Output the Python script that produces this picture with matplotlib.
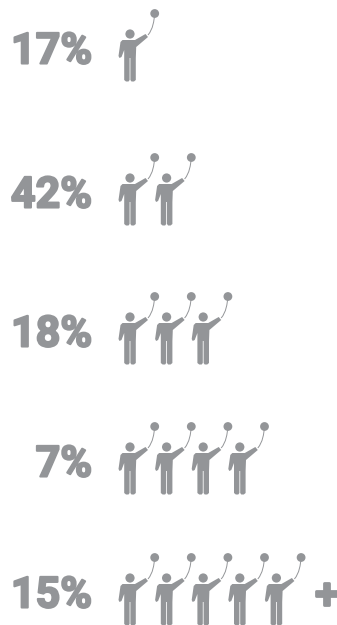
import matplotlib
matplotlib.use('Agg')
import matplotlib.pyplot as plt
import matplotlib.patheffects as pe
from matplotlib.patches import Circle, Polygon, PathPatch
from matplotlib.path import Path

labels = ['17%', '42%', '18%', '7%', '15%']
counts = [1, 2, 3, 4, 5]
head_y = [34, 178, 317, 447, 578]

GREY = '#939598'
STEP = 36.6
HEAD_X = 130

fig = plt.figure(figsize=(3.37, 6.25), dpi=100)
ax = fig.add_axes([0, 0, 1, 1])
ax.set_xlim(0, 337)
ax.set_ylim(625, 0)
ax.axis('off')

# outline of one figure, relative to the centre of its head
body = [(-7.5, 6), (5, 6), (15.5, 0), (18, 3), (6.2, 13), (5.8, 24), (5.8, 46), (4, 47.5),
        (1.5, 47.5), (0.4, 46), (0.4, 24), (-0.4, 24), (-0.4, 46), (-1.5, 47.5),
        (-4, 47.5), (-5.8, 46), (-5.8, 16), (-8.5, 23), (-10.5, 24), (-11.5, 22), (-9.5, 8)]


def draw_person(x, y):
    ax.add_patch(Circle((x, y), 4.6, fc=GREY, ec='none'))
    ax.add_patch(Polygon([(x + a, y + b) for a, b in body], fc=GREY, ec='none'))
    # balloon string
    string = Path([(x + 18, y + 1), (x + 23, y - 5), (x + 24, y - 13), (x + 24.7, y - 20)],
                  [Path.MOVETO, Path.CURVE4, Path.CURVE4, Path.CURVE4])
    ax.add_patch(PathPatch(string, fc='none', ec=GREY, lw=0.7))
    ax.add_patch(Circle((x + 24.7, y - 20.5), 4.4, fc=GREY, ec='none'))


for label, n, y in zip(labels, counts, head_y):
    ax.text(92, y + 18, label, ha='right', va='center', fontsize=31,
            fontweight='bold', family='Roboto', color=GREY,
            path_effects=[pe.withStroke(linewidth=1.5, foreground=GREY)])
    for i in range(n):
        draw_person(HEAD_X + i * STEP, y)

ax.text(326.5, head_y[-1] + 18, '+', ha='center', va='center', fontsize=30,
        fontweight='bold', family='Roboto', color=GREY,
        path_effects=[pe.withStroke(linewidth=2, foreground=GREY)])

fig.savefig('out.png', dpi=100, facecolor='white')
